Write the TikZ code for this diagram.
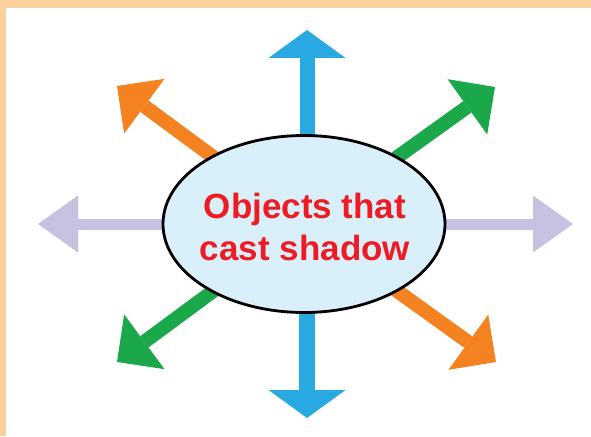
\documentclass[tikz,border=0pt]{standalone}
\usepackage{fontspec}
\setmainfont{Liberation Sans}
\usetikzlibrary{arrows.meta,shapes.geometric,backgrounds}
\definecolor{peach}{HTML}{FDD19E}
\definecolor{aorange}{HTML}{F58221}
\definecolor{ablue}{HTML}{29A9E1}
\definecolor{agreen}{HTML}{1BA84B}
\definecolor{alav}{HTML}{C6C3E2}
\definecolor{efill}{HTML}{D9EFF9}
\definecolor{ered}{HTML}{ED1C24}
\tikzset{
  ray/.style={line width=#1},
  vtip/.style={-{Triangle[length=28pt,width=77pt,line width=0pt]}},
  htip/.style={-{Triangle[length=40pt,width=57pt,line width=0pt]}},
  dtip/.style={-{Triangle[length=34pt,width=68pt,line width=0pt]}},
  bubble/.style={ellipse,draw=black,line width=2.8pt,fill=efill,minimum width=282pt,minimum height=177pt,inner sep=0pt},
  caption/.style={text=ered,align=center,inner sep=0pt,font=\fontsize{35}{42}\selectfont\bfseries}
}
\begin{document}
\begin{tikzpicture}[x=1pt,y=-1pt]
\useasboundingbox (0,0) rectangle (591,436);
\node[bubble] (e) at (304,224) {};
\node[caption] (t) at (305,227) {Objects that\\cast shadow};
\coordinate (tu) at (307,30);
\coordinate (td) at (307,418);
\coordinate (tl) at (38,224);
\coordinate (tr) at (573,224);
\coordinate (tul) at (117,86);
\coordinate (tur) at (495,87);
\coordinate (tdl) at (117,362);
\coordinate (tdr) at (496,362);
\begin{scope}[on background layer]
\fill[peach] (0,0) rectangle (591,436);
\fill[white] (6,8) rectangle (591,436);
\draw[ray=15pt,ablue,vtip] (e.center -| tu) -- (tu);
\draw[ray=16pt,ablue,vtip] (e.center -| td) -- (td);
\draw[ray=11pt,alav,htip] (e.center |- tl) -- (tl);
\draw[ray=11pt,alav,htip] (e.center |- tr) -- (tr);
\draw[ray=14pt,aorange,dtip] (e.center) -- (tul);
\draw[ray=14pt,aorange,dtip] (e.center) -- (tdr);
\draw[ray=14pt,agreen,dtip] (e.center) -- (tur);
\draw[ray=14pt,agreen,dtip] (e.center) -- (tdl);
\end{scope}
\end{tikzpicture}
\end{document}
